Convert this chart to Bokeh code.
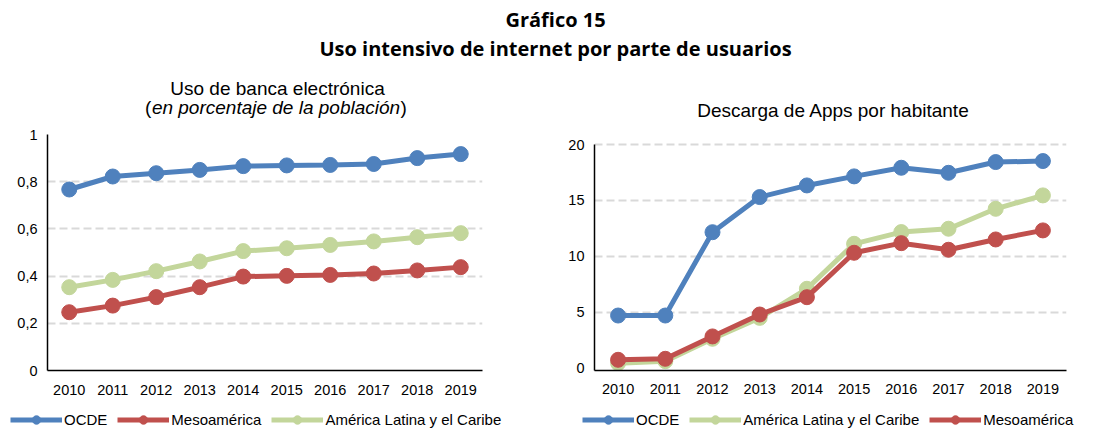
import numpy as np
from bokeh.plotting import figure
from bokeh.models import Range1d, FactorRange, FixedTicker, Label, Legend, LegendItem
from bokeh.layouts import column, row
from bokeh.embed import file_html
from bokeh.resources import INLINE

years = ["2010", "2011", "2012", "2013", "2014", "2015", "2016", "2017", "2018", "2019"]

banca_ocde = [0.767, 0.822, 0.836, 0.850, 0.866, 0.869, 0.871, 0.875, 0.900, 0.917]
banca_meso = [0.247, 0.275, 0.311, 0.353, 0.398, 0.401, 0.405, 0.411, 0.424, 0.438]
banca_alc = [0.353, 0.384, 0.421, 0.462, 0.506, 0.518, 0.532, 0.547, 0.565, 0.582]

apps_ocde = [4.71, 4.71, 12.16, 15.30, 16.34, 17.15, 17.92, 17.47, 18.43, 18.52]
apps_alc = [0.45, 0.63, 2.63, 4.50, 7.10, 11.12, 12.17, 12.47, 14.25, 15.45]
apps_meso = [0.75, 0.84, 2.84, 4.80, 6.35, 10.32, 11.18, 10.59, 11.51, 12.32]

banca_ticks = [0, 0.2, 0.4, 0.6, 0.8, 1]
banca_tick_labels = ["0", "0,2", "0,4", "0,6", "0,8", "1"]
apps_ticks = [0, 5, 10, 15, 20]
apps_tick_labels = ["0", "5", "10", "15", "20"]

main_title = ["Gráfico 15", "Uso intensivo de internet por parte de usuarios"]
sub_left = "Uso de banca electrónica"
sub_left_italic = "en porcentaje de la población"
sub_right = "Descarga de Apps por habitante"

names_left = ["OCDE", "Mesoamérica", "América Latina y el Caribe"]
names_right = ["OCDE", "América Latina y el Caribe", "Mesoamérica"]

BLUE = "#4F81BD"
RED = "#C0504D"
GREEN = "#C3D69B"
FONT = "Liberation Sans"
colors_left = [BLUE, RED, GREEN]
colors_right = [BLUE, GREEN, RED]

W = 1111
HEADER_H = 125
ROW_H = 277
STRIP_H = 28
W_LEFT = 555


def make_fig(width, mb_left, mb_right, y_start, y_end, ticks, tick_labels, standoff):
    p = figure(width=width, height=ROW_H, x_range=FactorRange(*years),
               y_range=Range1d(y_start, y_end), output_backend="svg", toolbar_location=None,
               min_border_left=mb_left, min_border_right=mb_right,
               min_border_top=9, min_border_bottom=32)
    p.outline_line_color = None
    p.background_fill_color = None
    p.border_fill_color = None
    p.xgrid.grid_line_color = None
    p.ygrid.ticker = FixedTicker(ticks=ticks[1:])
    p.ygrid.grid_line_color = "#d9d9d9"
    p.ygrid.grid_line_width = 2
    p.ygrid.grid_line_dash = "8 4"
    p.yaxis.ticker = FixedTicker(ticks=ticks)
    p.yaxis.major_label_overrides = dict(zip(ticks, tick_labels))
    p.yaxis.bounds = (y_start, ticks[-1])
    for ax in (p.xaxis, p.yaxis):
        ax.axis_line_color = "black"
        ax.axis_line_width = 1.5
        ax.major_tick_line_color = None
        ax.minor_tick_line_color = None
        ax.major_tick_out = 0
        ax.major_tick_in = 0
        ax.major_label_text_font = FONT
        ax.major_label_text_font_size = "14.5px"
        ax.major_label_text_color = "black"
    p.xaxis.major_label_standoff = standoff
    p.yaxis.major_label_standoff = 10
    p.x_range.range_padding = 0
    return p


def add_series(p, series, colors):
    for vals, color in zip(series, colors):
        p.line(years, vals, line_color=color, line_width=5)
        p.scatter(years, vals, size=15, fill_color=color, line_color=color)


# left chart: frame 47..482 x, 134..370 y
left = make_fig(W_LEFT, 47, W_LEFT - 482, 0, 1, banca_ticks, banca_tick_labels, 14)
add_series(left, [banca_ocde, banca_meso, banca_alc], colors_left)

# right chart: frame 594..1066 x; 20 at y=144, 0 at y=367.7 on a 134..370 frame
ppu = (367.7 - 144) / 20
r_start = -(370 - 367.7) / ppu
r_end = 20 + (144 - 134) / ppu
right = make_fig(W - W_LEFT, 594 - W_LEFT, W - 1066, r_start, r_end,
                 apps_ticks, apps_tick_labels, 13)
add_series(right, [apps_ocde, apps_alc, apps_meso], colors_right)

# header with titles (data units == pixels of header canvas, y measured from bottom)
header = figure(width=W, height=HEADER_H, x_range=Range1d(0, W), y_range=Range1d(0, HEADER_H),
                output_backend="svg", toolbar_location=None, min_border=0)
header.axis.visible = False
header.grid.visible = False
header.outline_line_color = None
header.border_fill_color = None
header.background_fill_color = None


def hy(page_y):
    return HEADER_H - page_y


tkw = dict(text_font="Open Sans", text_font_style="bold", text_font_size="20px",
           text_color="black", text_align="center", text_baseline="middle")
header.add_layout(Label(x=555, y=hy(19), text=main_title[0], **tkw))
header.add_layout(Label(x=555, y=hy(48), text=main_title[1], **tkw))

skw = dict(text_font=FONT, text_font_size="19px", text_color="black", text_baseline="middle")
header.add_layout(Label(x=277, y=hy(88), text=sub_left, text_align="center", **skw))
italic_w = 13.063 * 19
cx = 275.5
header.add_layout(Label(x=cx, y=hy(107), text=sub_left_italic, text_align="center",
                        text_font_style="italic", **skw))
header.add_layout(Label(x=cx - italic_w / 2 - 0.5, y=hy(107), text="(", text_align="right", **skw))
header.add_layout(Label(x=cx + italic_w / 2 + 0.5, y=hy(107), text=")", text_align="left", **skw))
header.add_layout(Label(x=833, y=hy(109.5), text=sub_right, text_align="center", **skw))

# legend strip
strip = figure(width=W, height=STRIP_H, x_range=Range1d(0, W), y_range=Range1d(0, STRIP_H),
               output_backend="svg", toolbar_location=None, min_border=0)
strip.axis.visible = False
strip.grid.visible = False
strip.outline_line_color = None
strip.border_fill_color = None
strip.background_fill_color = None

nan_pt = np.array([np.nan])


def legend_for(names, colors, x0):
    items = []
    for name, color in zip(names, colors):
        ln = strip.line(x=nan_pt, y=nan_pt, line_color=color, line_width=5)
        sc = strip.scatter(x=nan_pt, y=nan_pt, size=15, fill_color=color, line_color=color)
        items.append(LegendItem(label=name, renderers=[ln, sc]))
    lg = Legend(items=items, orientation="horizontal", location=(x0, 0),
                glyph_width=52, glyph_height=21, label_standoff=2, spacing=10,
                padding=0, margin=0, border_line_color=None, background_fill_alpha=0,
                label_text_font=FONT, label_text_font_size="15px", label_text_color="black")
    strip.add_layout(lg, "center")


legend_for(names_left, colors_left, 10)
legend_for(names_right, colors_right, 582)

layout = column(header, row(left, right), strip)

open("out.html", "w").write(file_html(layout, INLINE))
